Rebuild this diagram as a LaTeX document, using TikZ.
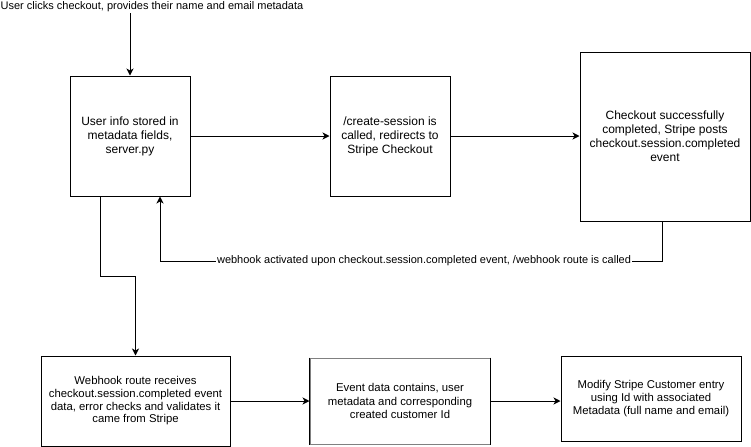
\documentclass[tikz,border=0pt]{standalone}
\usepackage{fontspec}
\setmainfont{Liberation Sans}
\usetikzlibrary{arrows.meta}

\begin{document}
\begin{tikzpicture}[x=0.75pt,y=-0.75pt,
    line width=0.75pt,
    arr/.style={-{Stealth[length=5.25pt,width=5.25pt,inset=1.5pt]}},
    stepbox/.style={draw,rectangle,align=center,inner sep=0pt,font=\fontsize{9}{10.5}\selectfont},
    lowbox/.style={stepbox,font=\fontsize{8.5}{10}\selectfont},
    lbl/.style={fill=white,inner sep=0.5pt,font=\fontsize{8.25}{9.9}\selectfont}]
\useasboundingbox (0,0) rectangle (751,447);
\node[lbl,fill=none] (intro) at (152,7) {User clicks checkout, provides their name and email metadata};
\node[stepbox,minimum width=90pt,minimum height=90pt] (user) at (130,136)
  {User info stored in\\metadata fields,\\server.py};
\node[stepbox,minimum width=90pt,minimum height=90pt] (session) at (390,136)
  {/create-session is\\called, redirects to\\Stripe Checkout};
\node[stepbox,minimum width=127.5pt,minimum height=126.75pt] (posted) at (665,136.5)
  {Checkout successfully\\completed, Stripe posts\\checkout.session.completed\\event};
\node[lowbox,font=\fontsize{8.5}{9.5}\selectfont,minimum width=141.75pt,minimum height=67.5pt] (receive) at (135.5,401)
  {Webhook route receives\\checkout.session.completed event\\data, error checks and validates it\\came from Stripe};
\node[lowbox,draw=black!50,minimum width=135pt,minimum height=64.5pt] (eventdata) at (400,401)
  {Event data contains, user\\metadata and corresponding\\created customer Id};
\draw (eventdata.north west) -- (eventdata.south west) (eventdata.north east) -- (eventdata.south east);
\node[lowbox,minimum width=135pt,minimum height=63.75pt] (modify) at (651,398.5)
  {Modify Stripe Customer entry\\using Id with associated\\Metadata (full name and email)};
\coordinate (hookR) at (662,261);
\coordinate (hookL) at (160,261);
\coordinate (bend) at (100,276);
\draw[arr] (user.north |- intro.south) -- (user.north);
\draw[arr] (user.east) -- (session.west);
\draw[arr] (session.east) -- (session.east -| posted.west);
\draw[arr] (posted.south -| hookR) -- (hookR) -- node[lbl,pos=0.474]{webhook activated upon checkout.session.completed event, /webhook route is called} (hookL) -- (user.south -| hookL);
\draw[arr] (user.south -| bend) -- (bend) -| (receive.north);
\draw[arr] (receive.east) -- (eventdata.west);
\draw[arr] (eventdata.east) -- (eventdata.east -| modify.west);
\end{tikzpicture}
\end{document}
